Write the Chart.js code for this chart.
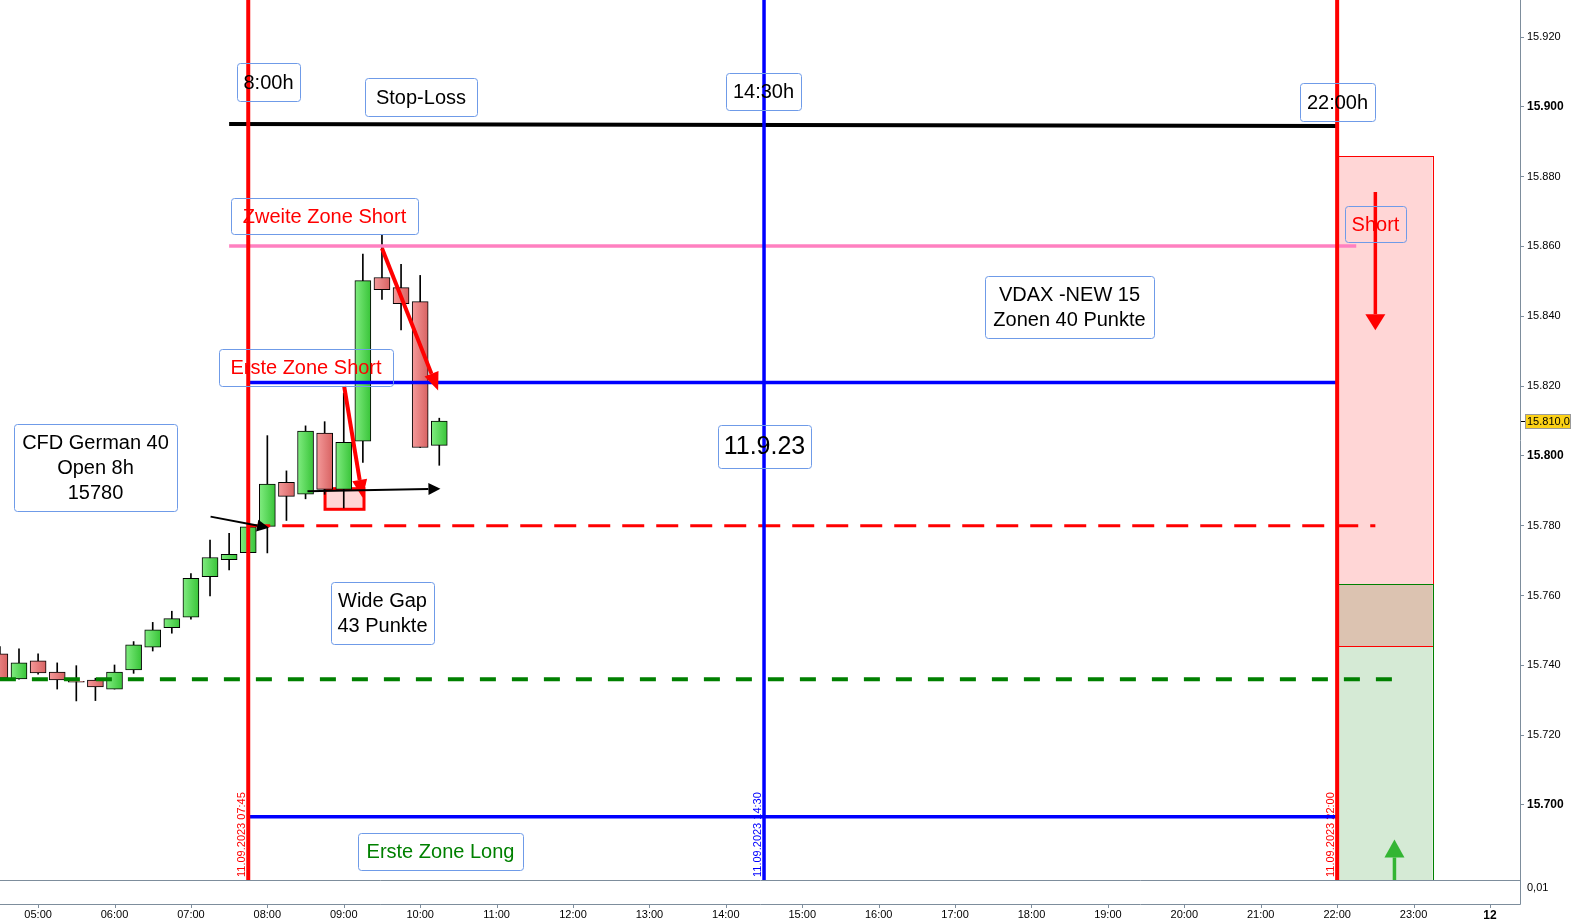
<!DOCTYPE html>
<html>
<head>
<meta charset="utf-8">
<script src="https://cdn.jsdelivr.net/npm/chart.js@4.4.0/dist/chart.umd.min.js"></script>
<style>
  html, body { margin: 0; padding: 0; background: #fff; }
  canvas { display: block; }
</style>
</head>
<body>
<canvas id="chart" width="1572" height="921"></canvas>
<script>
// CFD German 40, 15 min candles, 11.09.2023
const candleTimes = ['04:30', '04:45', '05:00', '05:15', '05:30', '05:45', '06:00', '06:15',
  '06:30', '06:45', '07:00', '07:15', '07:30', '07:45', '08:00', '08:15',
  '08:30', '08:45', '09:00', '09:15', '09:30', '09:45', '10:00', '10:15'];
const opens = [15743.3, 15736.1, 15741.3, 15738.1, 15735.4, 15735.8, 15733.2, 15738.7,
  15745.2, 15750.8, 15753.8, 15765.4, 15770.3, 15772.3, 15779.8, 15792.4,
  15789.0, 15806.5, 15790.4, 15804.2, 15851.1, 15848.2, 15844.2, 15803.0];
const highs = [15745.4, 15744.7, 15743.3, 15740.7, 15739.9, 15736.3, 15740.1, 15746.8,
  15752.3, 15755.5, 15766.3, 15775.9, 15777.8, 15780.0, 15805.8, 15795.7,
  15808.6, 15809.8, 15818.0, 15857.8, 15863.3, 15854.9, 15851.7, 15810.8];
const lows = [15736.0, 15736.0, 15737.5, 15733.2, 15729.8, 15729.9, 15733.2, 15737.7,
  15744.1, 15749.2, 15753.2, 15759.9, 15767.3, 15772.3, 15772.2, 15781.5,
  15787.7, 15789.0, 15785.1, 15798.1, 15844.8, 15836.1, 15802.4, 15797.3];
const closes = [15736.3, 15740.7, 15737.8, 15735.8, 15735.2, 15733.8, 15738.1, 15745.9,
  15750.2, 15753.4, 15764.9, 15770.9, 15771.8, 15779.7, 15791.9, 15788.4,
  15807.1, 15790.4, 15803.9, 15850.2, 15847.6, 15843.6, 15802.4, 15810.0];

// levels drawn as lines
const stopLoss = [15895.1, 15894.5];
const zweiteZoneShort = 15860.1;
const ersteZoneShort = 15821.0;
const openLevel = 15780.0;
const prevLevel = 15736.0;
const ersteZoneLong = 15696.6;

// vertical markers
const markerTimes = ['07:45', '14:30', '22:00'];
const markerDates = ['11.09.2023 07:45', '11.09.2023 14:30', '11.09.2023 22:00'];

// trade zones at 22:00
const shortZone = [15885.9, 15745.4];
const longZone = [15763.2, 15670.0];

const xMin = 4.5014, xMax = 24.393;
const yMin = 15678.5, yMax = 15930.6;

const FONT = 'Arial, "Liberation Sans", sans-serif';
const axisColor = '#7d8d9c';

function hour(t) {
  const p = t.split(':');
  return +p[0] + p[1] / 60;
}

function hline(y0, y1, t0, t1, color, width, dash, order) {
  return {
    type: 'line',
    data: [{ x: t0, y: y0 }, { x: t1, y: y1 }],
    borderColor: color,
    borderWidth: width,
    borderDash: dash || [],
    borderCapStyle: 'butt',
    pointRadius: 0,
    fill: false,
    order: order
  };
}

// text boxes: time range, value range
const boxes = [
  { text: '8:00h', x0: 7.598, x1: 8.424, y0: 15912.5, y1: 15901.6, color: '#000', size: 20 },
  { text: 'Stop-Loss', x0: 9.277, x1: 10.747, y0: 15908.2, y1: 15897.3, color: '#000', size: 20 },
  { text: '14:30h', x0: 14.0, x1: 14.984, y0: 15909.7, y1: 15899.0, color: '#000', size: 20 },
  { text: '22:00h', x0: 21.518, x1: 22.489, y0: 15906.8, y1: 15895.9, color: '#000', size: 20 },
  { text: 'Zweite Zone Short', x0: 7.519, x1: 9.972, y0: 15874.0, y1: 15863.7, color: '#ff0000', size: 20 },
  { text: 'Erste Zone Short', x0: 7.362, x1: 9.644, y0: 15830.7, y1: 15820.1, color: '#ff0000', size: 20 },
  { text: 'CFD German 40\nOpen 8h\n15780', x0: 4.685, x1: 6.824, y0: 15809.1, y1: 15784.2, color: '#000', size: 20 },
  { text: '11.9.23', x0: 13.895, x1: 15.115, y0: 15808.9, y1: 15796.5, color: '#000', size: 25 },
  { text: 'VDAX -NEW 15\nZonen 40 Punkte', x0: 17.398, x1: 19.602, y0: 15851.6, y1: 15833.8, color: '#000', size: 20 },
  { text: 'Wide Gap\n43 Punkte', x0: 8.831, x1: 10.182, y0: 15764.0, y1: 15746.2, color: '#000', size: 20 },
  { text: 'Erste Zone Long', x0: 9.185, x1: 11.35, y0: 15692.0, y1: 15681.3, color: '#008000', size: 20 },
  { text: 'Short', x0: 22.108, x1: 22.896, y0: 15871.5, y1: 15861.4, color: '#ff0000', size: 20 }
];

const arrows = [
  { from: [22.5, 15875.6], to: [22.5, 15836.0], color: '#ff0000', width: 3.5, len: 16, wid: 20 },
  { from: [22.75, 15670.0], to: [22.75, 15690.1], color: '#33b533', width: 3.5, len: 18, wid: 20 },
  { from: [9.5, 15859.5], to: [10.235, 15818.7], color: '#ff0000', width: 4, len: 18, wid: 15 },
  { from: [9.005, 15820.0], to: [9.247, 15788.0], color: '#ff0000', width: 4, len: 18, wid: 15 },
  { from: [8.525, 15789.9], to: [10.265, 15790.6], color: '#000', width: 2, len: 12, wid: 12 },
  { from: [7.257, 15782.6], to: [8.022, 15779.4], color: '#000', width: 2, len: 12, wid: 12 }
];

const gapBox = { x0: 8.755, x1: 9.265, y0: 15790.6, y1: 15784.7 };

function bodyColor(c) {
  const i = c.dataIndex;
  const up = closes[i] >= opens[i];
  const sx = c.chart.scales.x;
  const px = sx ? sx.getPixelForValue(hour(candleTimes[i])) : NaN;
  if (!isFinite(px)) return up ? '#55d555' : '#e77b7b';
  const g = c.chart.ctx.createLinearGradient(px - 8, 0, px + 8, 0);
  if (up) { g.addColorStop(0, '#80ec80'); g.addColorStop(1, '#38c438'); }
  else { g.addColorStop(0, '#f49a9a'); g.addColorStop(1, '#d86262'); }
  return g;
}

const overlay = {
  id: 'overlay',
  beforeDatasetsDraw(chart) {
    const { ctx, chartArea: a, scales: { x, y } } = chart;
    ctx.save();
    ctx.beginPath();
    ctx.rect(a.left, a.top, a.right - a.left, a.bottom - a.top);
    ctx.clip();

    const zl = x.getPixelForValue(22.0), zr = x.getPixelForValue(23.25);
    const sT = y.getPixelForValue(shortZone[0]), sB = y.getPixelForValue(shortZone[1]);
    const lT = y.getPixelForValue(longZone[0]), lB = y.getPixelForValue(longZone[1]);
    ctx.fillStyle = '#ffd6d6';
    ctx.fillRect(zl, sT, zr - zl, sB - sT);
    ctx.fillStyle = '#d5ead5';
    ctx.fillRect(zl, lT, zr - zl, lB - lT);
    ctx.fillStyle = '#dcc3b1';
    ctx.fillRect(zl, lT, zr - zl, sB - lT);
    ctx.lineWidth = 1;
    ctx.strokeStyle = '#ff0000';
    ctx.strokeRect(Math.round(zl) + 0.5, Math.round(sT) + 0.5, Math.round(zr - zl), Math.round(sB - sT));
    ctx.strokeStyle = '#008000';
    ctx.strokeRect(Math.round(zl) + 0.5, Math.round(lT) + 0.5, Math.round(zr - zl), Math.round(lB - lT));

    // gap box
    const gl = x.getPixelForValue(gapBox.x0), gr = x.getPixelForValue(gapBox.x1);
    const gt = y.getPixelForValue(gapBox.y0), gb = y.getPixelForValue(gapBox.y1);
    ctx.fillStyle = '#ffd6d6';
    ctx.fillRect(gl, gt, gr - gl, gb - gt);
    ctx.strokeStyle = '#ff0000';
    ctx.lineWidth = 3;
    ctx.strokeRect(gl, gt, gr - gl, gb - gt);

    // date labels along the markers
    ctx.font = '11px ' + FONT;
    ctx.textAlign = 'left';
    ctx.textBaseline = 'alphabetic';
    markerTimes.forEach((t, i) => {
      const px = x.getPixelForValue(hour(t)) - 3;
      ctx.save();
      ctx.translate(px, a.bottom - 3);
      ctx.rotate(-Math.PI / 2);
      ctx.fillStyle = i === 1 ? '#0000ff' : '#ff0000';
      ctx.fillText(markerDates[i], 0, 0);
      ctx.restore();
    });
    ctx.restore();
  },
  afterDatasetsDraw(chart) {
    const { ctx, chartArea: a, scales: { x, y } } = chart;
    ctx.save();
    ctx.beginPath();
    ctx.rect(a.left, a.top, a.right - a.left, a.bottom - a.top);
    ctx.clip();

    arrows.forEach(ar => {
      const x0 = x.getPixelForValue(ar.from[0]), y0 = y.getPixelForValue(ar.from[1]);
      const x1 = x.getPixelForValue(ar.to[0]), y1 = y.getPixelForValue(ar.to[1]);
      const ang = Math.atan2(y1 - y0, x1 - x0);
      const bx = x1 - Math.cos(ang) * ar.len, by = y1 - Math.sin(ang) * ar.len;
      ctx.strokeStyle = ar.color;
      ctx.fillStyle = ar.color;
      ctx.lineWidth = ar.width;
      ctx.lineCap = 'butt';
      ctx.beginPath();
      ctx.moveTo(x0, y0);
      ctx.lineTo(bx, by);
      ctx.stroke();
      const nx = -Math.sin(ang) * ar.wid / 2, ny = Math.cos(ang) * ar.wid / 2;
      ctx.beginPath();
      ctx.moveTo(x1, y1);
      ctx.lineTo(bx + nx, by + ny);
      ctx.lineTo(bx - nx, by - ny);
      ctx.closePath();
      ctx.fill();
    });

    boxes.forEach(b => {
      const l = Math.round(x.getPixelForValue(b.x0)), r = Math.round(x.getPixelForValue(b.x1));
      const t = Math.round(y.getPixelForValue(b.y0)), bt = Math.round(y.getPixelForValue(b.y1));
      ctx.beginPath();
      ctx.roundRect(l + 0.5, t + 0.5, r - l, bt - t, 3);
      ctx.strokeStyle = '#6f9be8';
      ctx.lineWidth = 1;
      ctx.stroke();
      ctx.fillStyle = b.color;
      ctx.font = b.size + 'px ' + FONT;
      ctx.textAlign = 'center';
      ctx.textBaseline = 'middle';
      const lines = b.text.split('\n');
      const lh = 25;
      const cx = (l + r) / 2, cy = (t + bt) / 2 + 1;
      lines.forEach((s, i) => ctx.fillText(s, cx, cy + (i - (lines.length - 1) / 2) * lh));
    });
    ctx.restore();
  },
  afterDraw(chart) {
    const { ctx, chartArea: a, scales: { x, y } } = chart;
    ctx.save();
    const low = a.bottom + 24;
    ctx.strokeStyle = axisColor;
    ctx.lineWidth = 1;
    ctx.beginPath();
    ctx.moveTo(a.left, low + 0.5);
    ctx.lineTo(a.right + 0.5, low + 0.5);
    ctx.moveTo(a.right + 0.5, a.bottom);
    ctx.lineTo(a.right + 0.5, low + 0.5);
    x.ticks.forEach(t => {
      const px = Math.round(x.getPixelForValue(t.value)) + 0.5;
      ctx.moveTo(px, low);
      ctx.lineTo(px, low + 4);
    });
    ctx.stroke();
    ctx.fillStyle = '#000';
    ctx.font = '11px ' + FONT;
    ctx.textAlign = 'left';
    ctx.textBaseline = 'middle';
    ctx.fillText('0,01', a.right + 7, a.bottom + 8);

    // last price tag
    const last = closes[closes.length - 1];
    const py = Math.round(y.getPixelForValue(last));
    ctx.strokeStyle = '#000';
    ctx.beginPath();
    ctx.moveTo(a.right + 1, py + 0.5);
    ctx.lineTo(a.right + 5, py + 0.5);
    ctx.stroke();
    ctx.fillStyle = '#fcd116';
    ctx.fillRect(a.right + 5, py - 7, 45, 14);
    ctx.strokeStyle = '#9a9a9a';
    ctx.strokeRect(a.right + 5.5, py - 6.5, 45, 14);
    ctx.fillStyle = '#000';
    const label = (Math.floor(last) / 1000).toFixed(3) + ',' + Math.round((last % 1) * 10);
    ctx.fillText(label, a.right + 7, py + 0.5);
    ctx.restore();
  }
};

const datasets = [];
markerTimes.forEach((t, i) => {
  datasets.push(hline(yMin, yMax, hour(t), hour(t), i === 1 ? '#0000ff' : '#ff0000', i === 1 ? 3.5 : 4, null, 1));
});
datasets.push(hline(stopLoss[0], stopLoss[1], 7.5, 22.0, '#000000', 4, null, 3));
datasets.push(hline(zweiteZoneShort, zweiteZoneShort, 7.5, 22.25, '#ff80c0', 3.5, null, 3));
datasets.push(hline(ersteZoneShort, ersteZoneShort, 7.75, 22.0, '#0000ff', 3.5, null, 3));
datasets.push(hline(openLevel, openLevel, 7.75, 22.5, '#ff0000', 3, [22, 12], 3));
datasets.push(hline(prevLevel, prevLevel, 4.5, 22.75, '#008000', 4, [16, 16], 3));
datasets.push(hline(ersteZoneLong, ersteZoneLong, 7.75, 22.0, '#0000ff', 3.5, null, 3));

datasets.push({
  type: 'bar',
  data: candleTimes.map((t, i) => ({ x: hour(t), y: [opens[i], closes[i]] })),
  backgroundColor: bodyColor,
  borderColor: '#000',
  borderWidth: 1,
  borderSkipped: false,
  barThickness: 16,
  grouped: false,
  order: 8
});
datasets.push({
  type: 'bar',
  data: candleTimes.map((t, i) => ({ x: hour(t), y: [lows[i], highs[i]] })),
  backgroundColor: '#000',
  borderWidth: 0,
  barThickness: 1,
  grouped: false,
  order: 9
});

const chart = new Chart(document.getElementById('chart'), {
  type: 'bar',
  data: { datasets: datasets },
  plugins: [overlay],
  options: {
    responsive: false,
    animation: false,
    devicePixelRatio: 1,
    layout: { padding: 0, autoPadding: false },
    plugins: { legend: { display: false }, tooltip: { enabled: false } },
    scales: {
      x: {
        type: 'linear',
        min: xMin,
        max: xMax,
        offset: false,
        grid: { display: false, drawTicks: false, offset: false },
        border: { display: true, color: axisColor },
        afterBuildTicks: s => { s.ticks = s.ticks.filter(t => Number.isInteger(t.value)); },
        ticks: {
          stepSize: 1,
          includeBounds: false,
          autoSkip: false,
          maxRotation: 0,
          padding: 28,
          color: '#000',
          font: c => (c.tick && c.tick.value === 24)
            ? { family: FONT, size: 12, weight: 'bold' }
            : { family: FONT, size: 11 },
          callback: v => v === 24 ? '12' : String(v).padStart(2, '0') + ':00'
        },
        afterFit: s => {
          s.height = 41;
          s.paddingLeft = 0; s.paddingRight = 0; s.paddingTop = 0; s.paddingBottom = 0;
        }
      },
      y: {
        type: 'linear',
        position: 'right',
        min: yMin,
        max: yMax,
        grid: { drawOnChartArea: false, drawTicks: true, tickLength: 4, color: axisColor },
        border: { display: true, color: axisColor },
        afterBuildTicks: s => { s.ticks = s.ticks.filter(t => t.value >= 15700 && t.value <= 15920); },
        ticks: {
          stepSize: 20,
          includeBounds: false,
          padding: 3,
          color: '#000',
          font: c => (c.tick && c.tick.value % 100 === 0)
            ? { family: FONT, size: 12, weight: 'bold' }
            : { family: FONT, size: 11 },
          callback: v => (v / 1000).toFixed(3)
        },
        afterFit: s => {
          s.width = 52;
          s.paddingLeft = 0; s.paddingRight = 0; s.paddingTop = 0; s.paddingBottom = 0;
        }
      }
    }
  }
});
</script>
</body>
</html>
